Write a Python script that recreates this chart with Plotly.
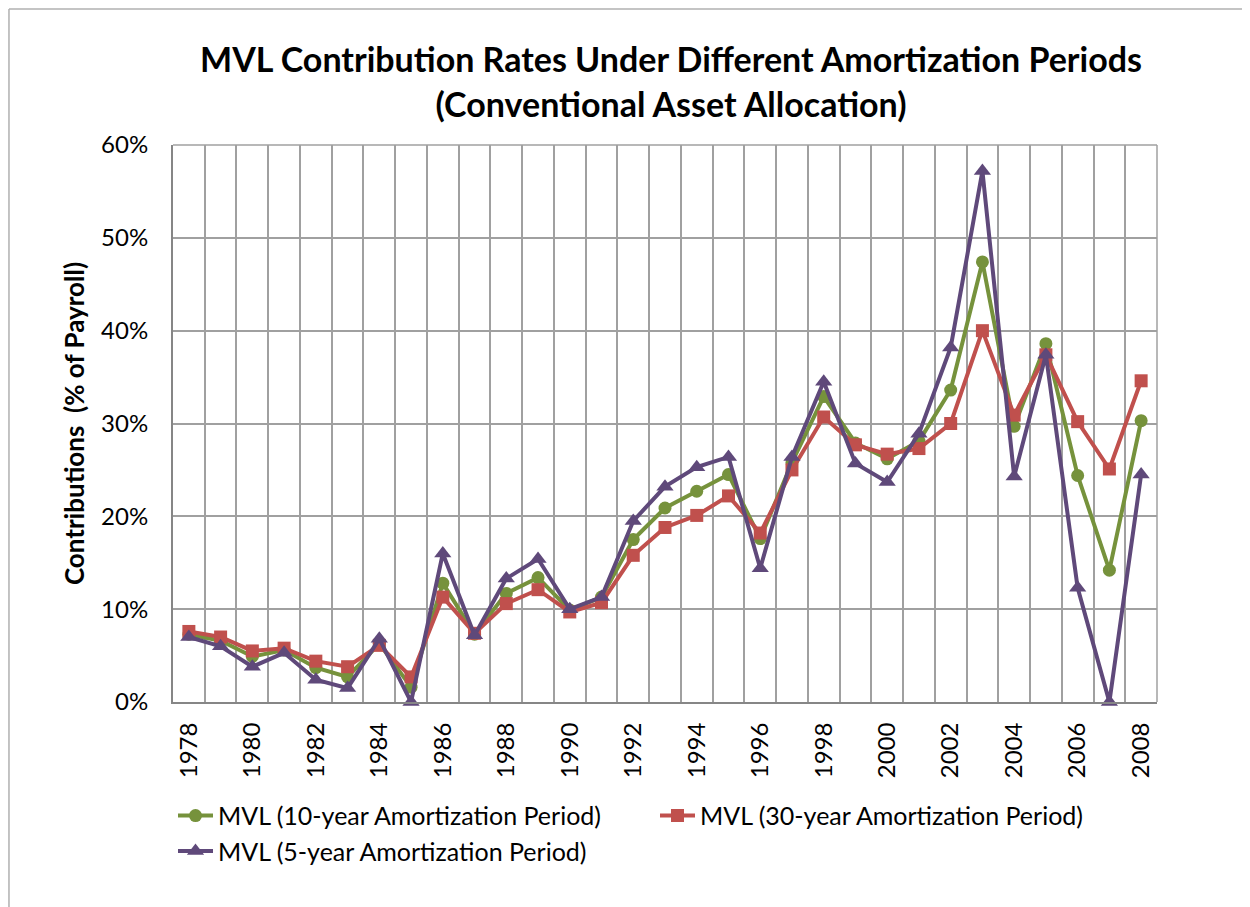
import plotly.graph_objects as go

years = list(range(1978, 2009))
mvl_10 = [7.3, 6.6, 4.9, 5.6, 3.7, 2.7, 6.3, 1.6, 12.8, 7.3, 11.7, 13.4, 9.9, 11.3, 17.5, 20.9,
          22.7, 24.5, 17.6, 25.8, 32.9, 27.9, 26.2, 28.1, 33.6, 47.4, 29.7, 38.6, 24.4, 14.2, 30.3]
mvl_30 = [7.6, 7.0, 5.5, 5.8, 4.4, 3.8, 6.1, 2.7, 11.3, 7.4, 10.6, 12.1, 9.7, 10.7, 15.8, 18.8,
          20.1, 22.2, 18.2, 25.0, 30.7, 27.7, 26.7, 27.3, 30.0, 40.0, 30.9, 37.4, 30.2, 25.1, 34.6]
mvl_5 = [7.0, 6.0, 3.8, 5.3, 2.4, 1.5, 6.8, 0.0, 16.0, 7.2, 13.3, 15.4, 10.0, 11.3, 19.5, 23.2,
         25.3, 26.4, 14.4, 26.4, 34.5, 25.7, 23.7, 28.9, 38.2, 57.2, 24.3, 37.4, 12.3, 0.0, 24.5]
tick_years = list(range(1978, 2009, 2))
names = ["MVL (10-year Amortization Period)", "MVL (30-year Amortization Period)",
         "MVL (5-year Amortization Period)"]

FONT = "Lato"
fig = go.Figure()
fig.add_trace(go.Scatter(x=years, y=mvl_10, name=names[0], mode="lines+markers",
                         line=dict(color="#76923C", width=4),
                         marker=dict(symbol="circle", size=13, color="#76923C"),
                         cliponaxis=False))
fig.add_trace(go.Scatter(x=years, y=mvl_30, name=names[1], mode="lines+markers",
                         line=dict(color="#C0504D", width=4),
                         marker=dict(symbol="square", size=13, color="#C0504D"),
                         cliponaxis=False))
fig.add_trace(go.Scatter(x=years, y=mvl_5, name=names[2], mode="lines+markers",
                         line=dict(color="#5F497A", width=4),
                         marker=dict(symbol="triangle-up", size=15, color="#5F497A"),
                         cliponaxis=False))

fig.update_layout(
    width=1250, height=907,
    margin=dict(l=165, r=101, t=137, b=213),
    paper_bgcolor="white", plot_bgcolor="white",
    font=dict(family=FONT, color="black", size=24),
    title=dict(text="<b>MVL Contribution Rates Under Different Amortization Periods<br>(Conventional Asset Allocation)</b>",
               x=0.5304, xanchor="center", y=0.929, yanchor="middle",
               font=dict(family=FONT, size=34, color="black")),
    showlegend=True,
    legend=dict(orientation="h", x=0.0, xanchor="left", y=-0.163, yanchor="top",
                font=dict(family=FONT, size=25, color="black"),
                entrywidth=432, entrywidthmode="pixels", itemwidth=35,
                bgcolor="rgba(0,0,0,0)", traceorder="normal"),
    xaxis=dict(range=[1977.5, 2008.5], tickmode="array", tickvals=tick_years,
               ticktext=[str(y) for y in tick_years], tickangle=-90,
               showgrid=False, zeroline=False, ticks="", ticklabelstandoff=9,
               showline=True, linecolor="#868686", linewidth=2,
               tickfont=dict(family=FONT, size=24, color="black"),
               minor=dict(tick0=1977.5, dtick=1, showgrid=True, gridcolor="#A0A0A0", gridwidth=1.5)),
    yaxis=dict(range=[0, 60], dtick=10, ticksuffix="%", showgrid=True,
               gridcolor="#A0A0A0", gridwidth=1.5, zeroline=False, ticks="",
               ticklabelstandoff=18,
               showline=True, linecolor="#868686", linewidth=2,
               tickfont=dict(family=FONT, size=24, color="black"),
               title=dict(text="<b>Contributions  (% of Payroll)</b>", standoff=9,
                          font=dict(family=FONT, size=26, color="black"))),
    shapes=[
        dict(type="line", xref="paper", yref="paper", x0=-0.1667, x1=1.2, y0=1.2442, y1=1.2442,
             line=dict(color="#B0B0B0", width=1.5)),
        dict(type="line", xref="paper", yref="paper", x0=-0.1667, x1=-0.1667, y0=-0.4, y1=1.2442,
             line=dict(color="#B0B0B0", width=1.5)),
        dict(type="line", xref="paper", yref="paper", x0=0, x1=1, y0=1, y1=1,
             line=dict(color="#A0A0A0", width=1.5)),
        dict(type="line", xref="paper", yref="paper", x0=1, x1=1, y0=0, y1=1,
             line=dict(color="#A0A0A0", width=1.5)),
    ],
)
fig.write_html("out.html")
